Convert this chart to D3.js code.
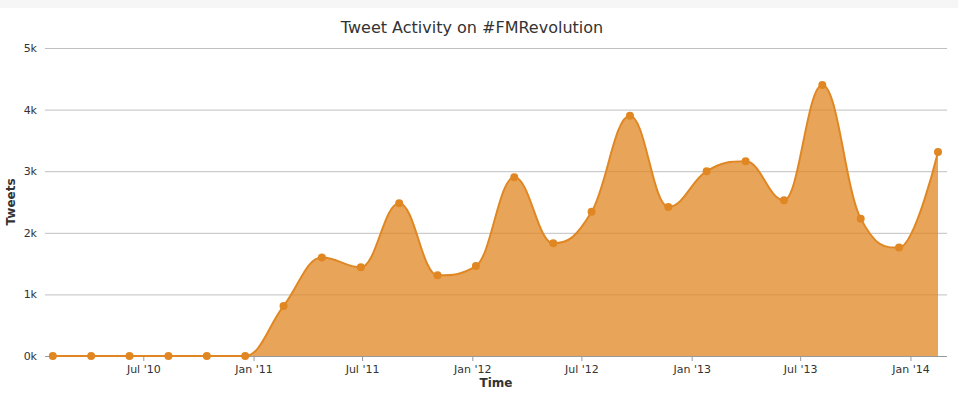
<!DOCTYPE html>
<html>
<head>
<meta charset="utf-8">
<script src="https://cdnjs.cloudflare.com/ajax/libs/d3/7.8.5/d3.min.js"></script>
<style>
  body { margin: 0; background: #fff; }
  text { font-family: "DejaVu Sans", "Liberation Sans", sans-serif; }
</style>
</head>
<body>
<div id="chart"></div>
<script>
// data
var dates = ["2010-01-31", "2010-04-05", "2010-06-08", "2010-08-12", "2010-10-15", "2010-12-18",
             "2011-02-20", "2011-04-25", "2011-06-29", "2011-09-01", "2011-11-04", "2012-01-07",
             "2012-03-11", "2012-05-15", "2012-07-18", "2012-09-20", "2012-11-23", "2013-01-26",
             "2013-04-01", "2013-06-04", "2013-08-07", "2013-10-10", "2013-12-13", "2014-02-16"];
var tweets = [0, 0, 0, 0, 0, 0,
              810, 1600, 1440, 2480, 1310, 1460,
              2900, 1830, 2340, 3900, 2420, 3000,
              3160, 2530, 4400, 2230, 1760, 3310];
var yTicks = [0, 1000, 2000, 3000, 4000, 5000];
var xTicks = ["2010-07-01", "2011-01-01", "2011-07-01", "2012-01-01",
              "2012-07-01", "2013-01-01", "2013-07-01", "2014-01-01"];
var xDomain = ["2010-01-18", "2014-03-03"];

var width = 958,
    height = 395;
var plotLeft = 45, plotRight = 947, plotTop = 48, plotBottom = 356;
var orange = "#e08723";

var parse = d3.timeParse("%Y-%m-%d");
var data = dates.map(function(d, i) { return { date: parse(d), value: tweets[i] }; });

var x = d3.scaleTime()
  .domain(xDomain.map(parse))
  .range([plotLeft, plotRight]);
var y = d3.scaleLinear()
  .domain([0, 5000])
  .range([plotBottom, plotTop]);

var svg = d3.select("#chart").append("svg")
  .attr("width", width)
  .attr("height", height);

svg.append("rect")
  .attr("width", width).attr("height", 8)
  .attr("fill", "#f6f6f6");

// title
svg.append("text")
  .attr("x", 472).attr("y", 33)
  .attr("text-anchor", "middle")
  .style("font-size", "16px")
  .style("fill", "#333")
  .text("Tweet Activity on #FMRevolution");

// grid + y labels
var yAxis = d3.axisLeft(y)
  .tickValues(yTicks)
  .tickSize(-(plotRight - plotLeft))
  .tickPadding(8)
  .tickFormat(function(d) { return (d / 1000) + "k"; });

var gy = svg.append("g")
  .attr("transform", "translate(" + plotLeft + ",0)")
  .call(yAxis);
gy.select(".domain").remove();
gy.selectAll(".tick line").attr("stroke", "#c0c0c0");
gy.selectAll(".tick text")
  .style("font-size", "11px")
  .style("fill", "#333")
  .attr("x", -8);

// spline like the highcharts one (control points clamped so no false extremes)
function splinePath(pts) {
  var p = d3.path();
  var smoothing = 1.5, denom = smoothing + 1;
  var rc = [];
  p.moveTo(pts[0][0], pts[0][1]);
  for (var i = 1; i < pts.length; i++) {
    var px = pts[i][0], py = pts[i][1];
    var lx = px, ly = py;
    if (i < pts.length - 1) {
      var last = pts[i - 1], next = pts[i + 1];
      lx = (smoothing * px + last[0]) / denom;
      ly = (smoothing * py + last[1]) / denom;
      var rx = (smoothing * px + next[0]) / denom;
      var ry = (smoothing * py + next[1]) / denom;
      var corr = 0;
      if (rx !== lx) corr = ((ry - ly) * (rx - px)) / (rx - lx) + py - ry;
      ly += corr; ry += corr;
      if (ly > last[1] && ly > py) { ly = Math.max(last[1], py); ry = 2 * py - ly; }
      else if (ly < last[1] && ly < py) { ly = Math.min(last[1], py); ry = 2 * py - ly; }
      if (ry > next[1] && ry > py) { ry = Math.max(next[1], py); ly = 2 * py - ry; }
      else if (ry < next[1] && ry < py) { ry = Math.min(next[1], py); ly = 2 * py - ry; }
      rc[i] = [rx, ry];
    }
    var c1 = rc[i - 1] || pts[i - 1];
    p.bezierCurveTo(c1[0], c1[1], lx, ly, px, py);
  }
  return p.toString();
}

var pts = data.map(function(d) { return [x(d.date), y(d.value)]; });
var linePath = splinePath(pts);
var areaPath = linePath +
  "L" + pts[pts.length - 1][0] + "," + y(0) +
  "L" + pts[0][0] + "," + y(0) + "Z";

svg.append("path")
  .attr("d", areaPath)
  .attr("fill", orange)
  .attr("fill-opacity", 0.75);

// x axis
var xAxis = d3.axisBottom(x)
  .tickValues(xTicks.map(parse))
  .tickSize(5)
  .tickPadding(4)
  .tickFormat(d3.timeFormat("%b '%y"));

var gx = svg.append("g")
  .attr("transform", "translate(0," + y(0) + ")")
  .call(xAxis);
gx.select(".domain").attr("stroke", "#999").attr("d", "M" + plotLeft + ",0.5H" + plotRight);
gx.selectAll(".tick line").attr("stroke", "#999");
gx.selectAll(".tick text")
  .style("font-size", "11px")
  .style("fill", "#333");

svg.append("path")
  .attr("d", linePath)
  .attr("fill", "none")
  .attr("stroke", orange)
  .attr("stroke-width", 2);

svg.selectAll(".dot")
  .data(data)
  .enter().append("circle")
  .attr("class", "dot")
  .attr("cx", function(d) { return x(d.date); })
  .attr("cy", function(d) { return y(d.value); })
  .attr("r", 4)
  .attr("fill", orange);

// axis titles
svg.append("text")
  .attr("x", (plotLeft + plotRight) / 2).attr("y", 387)
  .attr("text-anchor", "middle")
  .style("font-size", "12px")
  .style("font-weight", "bold")
  .style("fill", "#333")
  .text("Time");

svg.append("text")
  .attr("transform", "translate(15," + (plotTop + plotBottom) / 2 + ") rotate(-90)")
  .attr("text-anchor", "middle")
  .style("font-size", "12px")
  .style("font-weight", "bold")
  .style("fill", "#333")
  .text("Tweets");
</script>
</body>
</html>
